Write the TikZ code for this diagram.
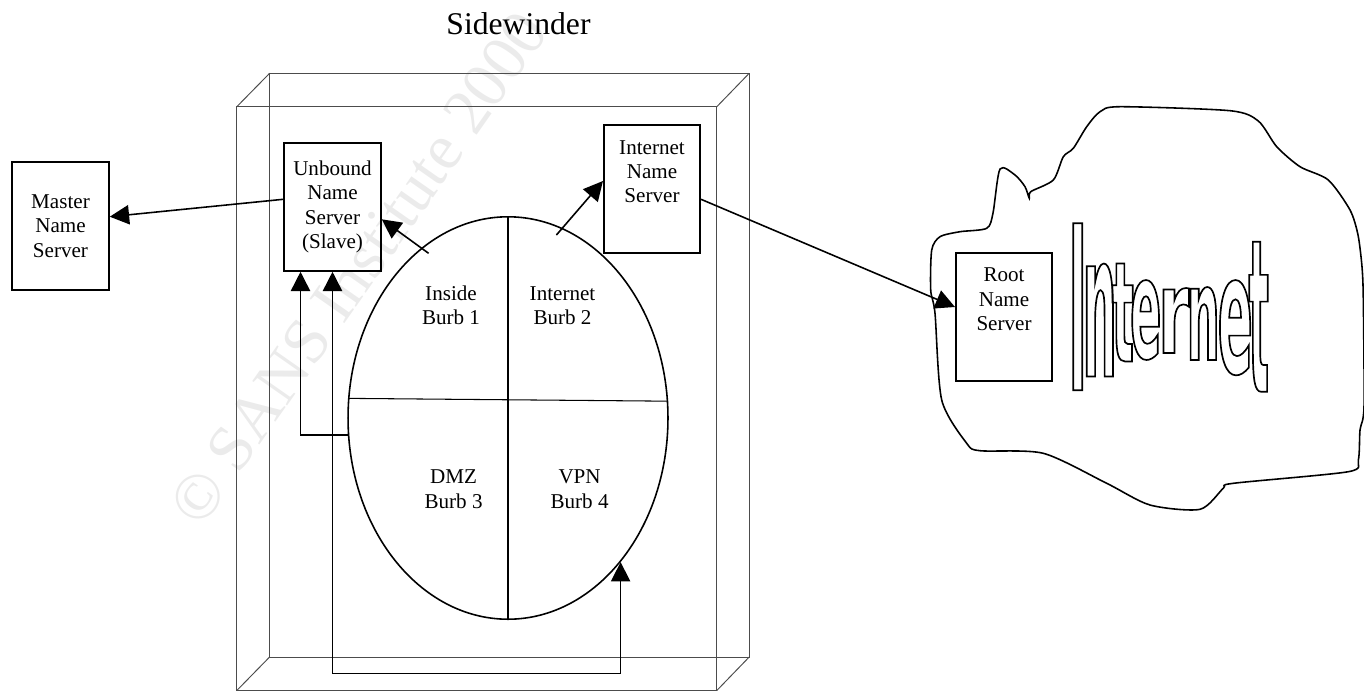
\documentclass[tikz,border=0pt]{standalone}
\usepackage{fontspec}
\setmainfont{Liberation Serif}
\newfontfamily\wordfont{DejaVu Sans}
\usetikzlibrary{shapes.geometric, arrows.meta, positioning}
% outlined letter sized to #2 x #3 pixels
\newcommand\wordletter[3]{%
  \sbox0{\wordfont\bfseries\fontsize{100}{100}\selectfont #1}%
  \edef\lsize{\fpeval{round(100*#3*0.5690551/(\the\ht0),3)}}%
  \edef\lstretch{\fpeval{round(#2*0.5690551/(\the\wd0*\lsize/100),4)}}%
  {\wordfont\bfseries\fontsize{\lsize}{\lsize}\selectfont\addfontfeatures{FakeStretch=\lstretch}%
   \special{pdf:literal direct 1 Tr 0.95 w}#1\special{pdf:literal direct 0 Tr}}}
% letter #1 centred at (#2,#3) px, size #4 x #5 px, word origin at (1060,400)
\newcommand\wordpiece[5]{%
  \rlap{\hspace*{\fpeval{(#2-1060)*0.5690551}pt}\makebox[0pt]{%
    \raisebox{\fpeval{(400-#3-#5/2)*0.5690551}pt}{\wordletter{#1}{#4}{#5}}}}}

\begin{document}
\begin{tikzpicture}[x=0.02cm, y=-0.02cm,
    every node/.style={font=\fontsize{12}{13.9}\selectfont, align=center},
    server/.style={draw, rectangle, line width=0.9pt, minimum width=1.93cm, minimum height=2.56cm, inner sep=0},
    toptext/.style={anchor=north, yshift=-8.8pt, inner sep=0},
    frame/.style={draw=black!70, line width=0.55pt},
    divider/.style={draw, line width=0.6pt},
    link/.style={draw, line width=0.9pt, -{Triangle[length=11pt,width=11pt]}},
    dlink/.style={link, {Triangle[length=11pt,width=11pt]}-{Triangle[length=11pt,width=11pt]}},
    burb/.style={inner sep=0},
    word/.style={inner sep=0, anchor=base west}
  ]
  \useasboundingbox (0,0) rectangle (1364,690);
  % watermark
  \node at (358,268) [rotate=55, text=black!8, font=\fontsize{37}{37}\selectfont] (wmark) {© SANS Institute 2000};
  % firewall box
  \draw[frame] (236.8,106.7) rectangle (716.8,690.5);
  \draw[frame] (269.6,73.3) rectangle (749.2,657);
  \foreach \fx/\fy/\bx/\by in {236.8/106.7/269.6/73.3, 716.8/106.7/749.2/73.3, 236.8/690.5/269.6/657, 716.8/690.5/749.2/657}
    \draw[frame] (\fx,\fy) -- (\bx,\by);
  \node at (518.5,24) [font=\fontsize{18}{20}\selectfont] (title) {Sidewinder};
  % name servers
  \node at (60.5,226) [server, minimum width=1.94cm] (nodeMaster) {Master\\Name\\Server};
  \node at (332.5,207) [server, minimum width=1.94cm] (nodeUnbound) {Unbound\\Name\\Server\\(Slave)};
  \node at (652,189.2) [server, label={[toptext]north:{Internet\\Name\\Server}}] (nodeInetNS) {};
  \node at (1004,317) [server, label={[toptext]north:{Root\\Name\\Server}}] (nodeRoot) {};
  % burbs
  \node at (508,418) [ellipse, draw, line width=0.9pt, minimum width=6.4cm, minimum height=8.05cm, inner sep=0] (nodeBurbs) {};
  \draw[divider] (nodeBurbs.north) -- (nodeBurbs.south);
  \draw[divider] (nodeBurbs.173.3) -- (nodeBurbs.6.7);
  \node at (451,305.5) [burb] (burbInside) {Inside\\Burb 1};
  \node at (562.5,305.5) [burb] (burbInternet) {Internet\\Burb 2};
  \node at (453.6,489) [burb] (burbDMZ) {DMZ\\Burb 3};
  \node at (579.6,489) [burb] (burbVPN) {VPN\\Burb 4};
  % internet cloud
  \draw[line width=0.9pt] plot[smooth cycle, tension=0.45] coordinates {
    (931.7,250) (940,236.7) (960,231.7) (986.7,228.3) (993,213) (1000,169)
    (1015,175) (1025,186.7) (1029.3,198.3) (1030.7,191.7) (1053.3,180)
    (1063.3,156.7) (1073.3,148.3) (1086.7,126.7) (1100,111.7) (1120,106.7)
    (1230,110.7) (1258.3,121) (1276.7,146.7) (1300,166.7) (1328.3,180)
    (1350,210) (1358,235) (1362,267) (1363.3,300) (1364,406.7) (1360,430)
    (1358.3,460) (1348.3,471.7) (1233.3,483.3) (1223.3,488.3) (1200,509.3)
    (1150,505) (1106.7,483.3) (1043.3,453.3) (980,450.7) (966.7,443.3)
    (941.7,400) (935,313.3) (930.7,290)};
  \node at (1060,400) [word] (wordInternet) {%
    \wordpiece{I}{1076.5}{306.7}{18}{167}\wordpiece{n}{1098.5}{320}{34}{113}%
    \wordpiece{t}{1121.5}{312.5}{22}{98}\wordpiece{e}{1144.5}{319}{31}{78}%
    \wordpiece{r}{1172.5}{320.5}{31}{65}\wordpiece{n}{1202}{323.5}{33}{73}%
    \wordpiece{e}{1234}{326.5}{35}{93}\wordpiece{t}{1257.5}{316.7}{20}{150}};
  % connectors
  \coordinate (tailInside) at (428.6,253.3);
  \coordinate (tailInternet) at (556.4,235);
  \coordinate (loopBottom) at (332.5,673.3);
  \draw[link] (nodeUnbound.west |- 0,199.3) -- (nodeMaster.east |- 0,216.7);
  \draw[link] (tailInside) -- (nodeUnbound.east |- 0,219.3);
  \draw[link] (tailInternet) -- (nodeInetNS.west |- 0,181);
  \draw[link] (nodeInetNS.east |- 0,199.3) -- (nodeRoot.west |- 0,307);
  \draw[link] (nodeBurbs.186.4) -| ([xshift=-0.64cm]nodeUnbound.south);
  \draw[dlink] (nodeBurbs.308.3) |- (loopBottom) -- (nodeUnbound.south);
\end{tikzpicture}
\end{document}
